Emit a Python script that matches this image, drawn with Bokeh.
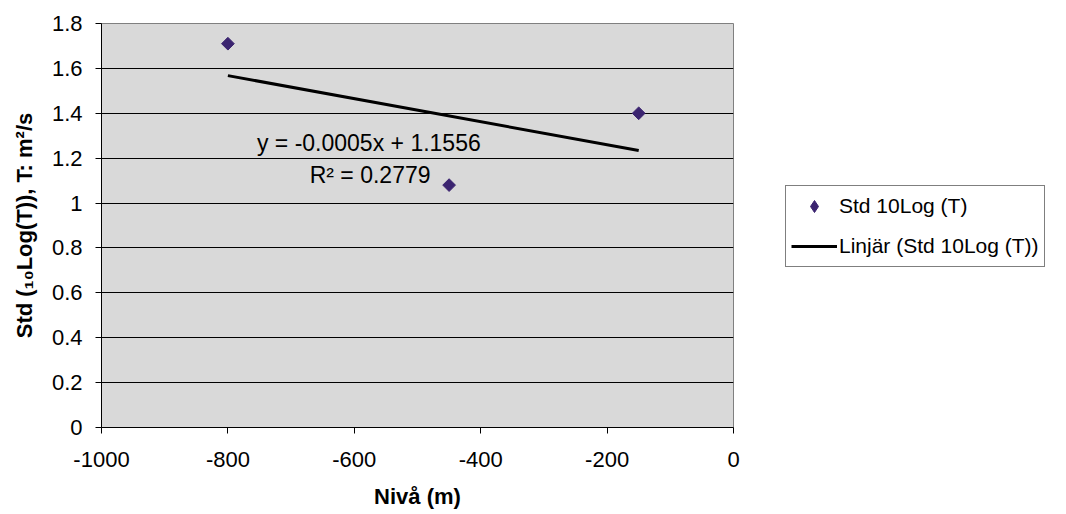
import numpy as np
from bokeh.plotting import figure
from bokeh.models import (Legend, LegendItem, FixedTicker, Label, Range1d)
from bokeh.embed import file_html
from bokeh.resources import INLINE

# ---- data ----
niva = [-800, -450, -150]
std_log = [1.71, 1.08, 1.40]
series_name = "Std 10Log (T)"
trend_name = "Linjär (Std 10Log (T))"
equation_text = "y = -0.0005x + 1.1556"
r2_text = "R² = 0.2779"
x_ticks = [-1000, -800, -600, -400, -200, 0]
x_tick_labels = ["-1000", "-800", "-600", "-400", "-200", "0"]
y_ticks = [0, 0.2, 0.4, 0.6, 0.8, 1.0, 1.2, 1.4, 1.6, 1.8]
y_tick_labels = ["0", "0.2", "0.4", "0.6", "0.8", "1", "1.2", "1.4", "1.6", "1.8"]
x_title = "Nivå (m)"
y_title = "Std (₁₀Log(T)), T: m²/s"

FONT = "Liberation Sans"
MARK = "#3b2470"

p = figure(width=1050, height=498, output_backend="svg", toolbar_location=None,
           x_range=Range1d(-1000, 0), y_range=Range1d(0, 1.8),
           frame_width=632, frame_height=404,
           min_border_left=101, min_border_top=23, min_border_right=317, min_border_bottom=71)

p.background_fill_color = "#d9d9d9"
p.border_fill_color = "white"
p.outline_line_color = "#808080"
p.outline_line_width = 1

# grid
p.xgrid.grid_line_color = None
p.ygrid.grid_line_color = "black"
p.ygrid.grid_line_width = 1
p.ygrid.ticker = FixedTicker(ticks=y_ticks)

# axes
p.xaxis.ticker = FixedTicker(ticks=x_ticks)
p.yaxis.ticker = FixedTicker(ticks=y_ticks)
p.xaxis.major_label_overrides = {t: l for t, l in zip(x_ticks, x_tick_labels)}
p.yaxis.major_label_overrides = {t: l for t, l in zip(y_ticks, y_tick_labels)}
for ax in (p.xaxis[0], p.yaxis[0]):
    ax.axis_line_color = "black"
    ax.axis_line_width = 1
    ax.major_tick_line_color = "black"
    ax.major_tick_out = 6
    ax.major_tick_in = 0
    ax.minor_tick_line_color = None
    ax.major_label_text_font = FONT
    ax.major_label_text_font_size = "22px"
    ax.major_label_text_color = "black"
    ax.axis_label_text_font = FONT
    ax.axis_label_text_font_size = "22px"
    ax.axis_label_text_font_style = "bold"
    ax.axis_label_text_color = "black"

p.xaxis.axis_label = x_title
p.yaxis.axis_label = y_title
p.xaxis.major_label_standoff = 18
p.yaxis.major_label_standoff = 13
p.xaxis.axis_label_standoff = 14
p.yaxis.axis_label_standoff = 12

# trendline from least squares on the data
coef = np.polyfit(niva, std_log, 1)
tx = [min(niva), max(niva)]
ty = [coef[0] * v + coef[1] for v in tx]
line_r = p.line(tx, ty, line_color="black", line_width=3)

# legend glyph (diamond); legend markers are drawn unrotated, so use a diamond here,
# hidden underneath the rotated-square points in the plot itself
leg_pts = p.scatter(niva, std_log, marker="diamond", size=1, fill_color=MARK, line_color=MARK)
pts = p.scatter(niva, std_log, marker="square", angle=np.pi / 4, size=9,
                fill_color=MARK, line_color=MARK)

# equation labels
p.add_layout(Label(x=-577, y=1.267, text=equation_text, text_font=FONT,
                   text_font_size="23px", text_align="center", text_baseline="middle",
                   text_color="black"))
p.add_layout(Label(x=-575, y=1.124, text=r2_text, text_font=FONT,
                   text_font_size="23px", text_align="center", text_baseline="middle",
                   text_color="black"))

legend = Legend(items=[LegendItem(label=series_name, renderers=[leg_pts]),
                       LegendItem(label=trend_name, renderers=[line_r])],
                location=(52, 160), orientation="vertical",
                label_text_font=FONT, label_text_font_size="21px",
                label_text_color="black", label_standoff=2,
                glyph_width=46, glyph_height=30, label_height=30,
                spacing=10, padding=5, margin=0,
                border_line_color="black", border_line_width=1,
                background_fill_color="white", background_fill_alpha=1.0)
p.add_layout(legend, "right")

open("out.html", "w").write(file_html(p, INLINE))
